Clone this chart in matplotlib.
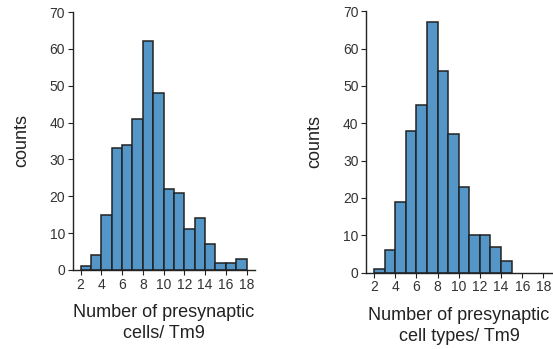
import matplotlib
matplotlib.use("Agg")
import matplotlib.pyplot as plt
import numpy as np

plt.rcParams['font.family'] = ['Liberation Sans', 'DejaVu Sans']

bin_edges = list(range(2, 19))
counts_cells = [1, 4, 15, 33, 34, 41, 62, 48, 22, 21, 11, 14, 7, 2, 2, 3]
counts_types = [1, 6, 19, 38, 45, 67, 54, 37, 23, 10, 10, 7, 3, 0, 0, 0]
xticks = [2, 4, 6, 8, 10, 12, 14, 16, 18]
yticks = [0, 10, 20, 30, 40, 50, 60, 70]
xlabels = ["Number of presynaptic\ncells/ Tm9", "Number of presynaptic\ncell types/ Tm9"]

fig = plt.figure(figsize=(5.53, 3.49), dpi=100)
ax1 = fig.add_axes([0.1315, 0.2264, 0.3295, 0.7392])
ax2 = fig.add_axes([0.662, 0.2186, 0.336, 0.7494])

for ax, cnts, xl in [(ax1, counts_cells, xlabels[0]), (ax2, counts_types, xlabels[1])]:
    left = [e for e, c in zip(bin_edges[:-1], cnts) if c > 0]
    h = [c for c in cnts if c > 0]
    ax.bar(left, h, width=1.0, align='edge', color='#5596c8',
           edgecolor='#222222', linewidth=1.1)
    ax.set_xlim(1.25, 18.8)
    ax.set_ylim(0, 70)
    ax.set_xticks(xticks)
    ax.set_yticks(yticks)
    ax.spines['top'].set_visible(False)
    ax.spines['right'].set_visible(False)
    for s in ['left', 'bottom']:
        ax.spines[s].set_linewidth(1.0)
        ax.spines[s].set_color('#222222')
    ax.tick_params(labelsize=10, colors='#222222', labelcolor='#333333',
                   length=3.5, width=0.8, pad=2)
    ax.set_ylabel('counts', fontsize=13, labelpad=14, color='#222222')
    ax.set_xlabel(xl, fontsize=13, labelpad=9, linespacing=1.3, color='#222222')

fig.savefig('out.png', dpi=100)
